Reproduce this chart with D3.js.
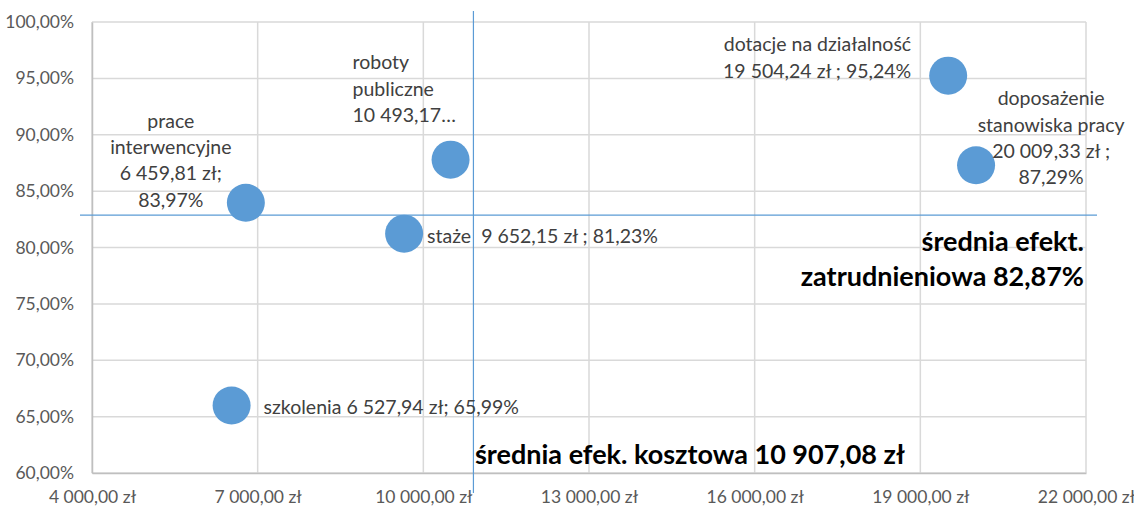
<!DOCTYPE html>
<html>
<head>
<meta charset="utf-8">
<script src="https://cdn.jsdelivr.net/npm/d3@7"></script>
<style>
    body { margin: 0; background: #fff; }
    svg { font-family: "Lato", "Open Sans", sans-serif; }
</style>
</head>
<body>
<svg id="chart" width="1134" height="506"></svg>
<script>
// forms of support, average cost per person (zł) and employment effectiveness
var names = ["prace interwencyjne", "roboty publiczne", "dotacje na działalność",
             "doposażenie stanowiska pracy", "staże", "szkolenia"];
var costs = [6786, 10493.17, 19504.24, 20009.33, 9652.15, 6527.94];
var rates = [0.8397, 0.8779, 0.9524, 0.8729, 0.8123, 0.6599];
var labels = [
    ["prace", "interwencyjne", "6 459,81 zł;", "83,97%"],
    ["roboty", "publiczne", "10 493,17…"],
    ["dotacje na działalność", "19 504,24 zł ; 95,24%"],
    ["doposażenie", "stanowiska pracy", "20 009,33 zł ;", "87,29%"],
    ["staże  9 652,15 zł ; 81,23%"],
    ["szkolenia 6 527,94 zł; 65,99%"]
];
var avgCost = 10907.08;
var avgRate = 0.8287;
var xTicks = [4000, 7000, 10000, 13000, 16000, 19000, 22000];
var yTicks = [0.60, 0.65, 0.70, 0.75, 0.80, 0.85, 0.90, 0.95, 1.00];

// where each label sits relative to its bubble
var labelPos = [
    { dx: -75, dy: -82, anchor: "middle" },
    { dx: -98, dy: -97, anchor: "start" },
    { dx: -37, dy: -31, anchor: "end" },
    { dx: 75, dy: -67, anchor: "middle" },
    { dx: 23, dy: 3, anchor: "start" },
    { dx: 32, dy: 2, anchor: "start" }
];

var pl = d3.formatLocale({ decimal: ",", thousands: " ", grouping: [3], currency: ["", " zł"] });
var fmtX = pl.format("$,.2f"),
    fmtY = pl.format(".2%");

var svg = d3.select("#chart"),
    margin = { top: 22, right: 48, bottom: 33, left: 92 },
    width = +svg.attr("width") - margin.left - margin.right,
    height = +svg.attr("height") - margin.top - margin.bottom,
    g = svg.append("g").attr("transform", "translate(" + margin.left + "," + margin.top + ")");

var x = d3.scaleLinear().domain([4000, 22000]).range([0, width]);
var y = d3.scaleLinear().domain([0.6, 1.0]).range([height, 0]);

// gridlines
g.append("g")
    .selectAll("line")
    .data(xTicks)
    .enter().append("line")
    .attr("x1", function (d) { return x(d); })
    .attr("x2", function (d) { return x(d); })
    .attr("y1", 0)
    .attr("y2", height)
    .attr("stroke", "#d9d9d9")
    .attr("stroke-width", 1.5);

g.append("g")
    .selectAll("line")
    .data(yTicks)
    .enter().append("line")
    .attr("x1", 0)
    .attr("x2", width)
    .attr("y1", function (d) { return y(d); })
    .attr("y2", function (d) { return y(d); })
    .attr("stroke", "#d9d9d9")
    .attr("stroke-width", 1.5);

// axes
var xAxis = g.append("g")
    .attr("transform", "translate(0," + height + ")")
    .call(d3.axisBottom(x).tickValues(xTicks).tickFormat(fmtX).tickSize(0));
var yAxis = g.append("g")
    .call(d3.axisLeft(y).tickValues(yTicks).tickFormat(fmtY).tickSize(0).tickPadding(18));

[xAxis, yAxis].forEach(function (a) {
    a.select(".domain").attr("stroke", "#bfbfbf").attr("stroke-width", 1.5);
    a.selectAll("text")
        .attr("fill", "#595959")
        .style("font-size", "17.5px")
        .style("font-family", '"Lato", sans-serif');
});
xAxis.selectAll("text").attr("dy", "0.35em").attr("y", 24);

// average lines
g.append("line")
    .attr("x1", x(avgCost)).attr("x2", x(avgCost))
    .attr("y1", -11).attr("y2", height + 20)
    .attr("stroke", "#5b9bd5").attr("stroke-width", 1.2);
g.append("line")
    .attr("x1", -12).attr("x2", width + 11)
    .attr("y1", y(avgRate)).attr("y2", y(avgRate))
    .attr("stroke", "#5b9bd5").attr("stroke-width", 1.2);

// bubbles
g.selectAll(".bubble")
    .data(costs)
    .enter().append("circle")
    .attr("class", "bubble")
    .attr("cx", function (d) { return x(d); })
    .attr("cy", function (d, i) { return y(rates[i]); })
    .attr("r", 19)
    .attr("fill", "#5b9bd5");

// data labels
labels.forEach(function (lines, i) {
    var p = labelPos[i];
    var t = g.append("text")
        .attr("text-anchor", p.anchor)
        .attr("fill", "#404040")
        .style("font-size", "19.5px")
        .style("white-space", "pre");
    lines.forEach(function (s, j) {
        t.append("tspan")
            .attr("x", x(costs[i]) + p.dx)
            .attr("y", y(rates[i]) + p.dy + j * 26.4)
            .attr("dy", "0.35em")
            .text(s);
    });
});

// annotations
svg.append("text")
    .attr("x", 1084)
    .attr("y", 251)
    .attr("text-anchor", "end")
    .style("font-size", "27px")
    .style("font-weight", "bold")
    .attr("fill", "#000")
    .text("średnia efekt.");
svg.append("text")
    .attr("x", 1084)
    .attr("y", 286)
    .attr("text-anchor", "end")
    .style("font-size", "27px")
    .style("font-weight", "bold")
    .attr("fill", "#000")
    .text("zatrudnieniowa 82,87%");
svg.append("text")
    .attr("x", 475)
    .attr("y", 464)
    .style("font-size", "27px")
    .style("font-weight", "bold")
    .attr("fill", "#000")
    .text("średnia efek. kosztowa 10 907,08 zł");
</script>
</body>
</html>
